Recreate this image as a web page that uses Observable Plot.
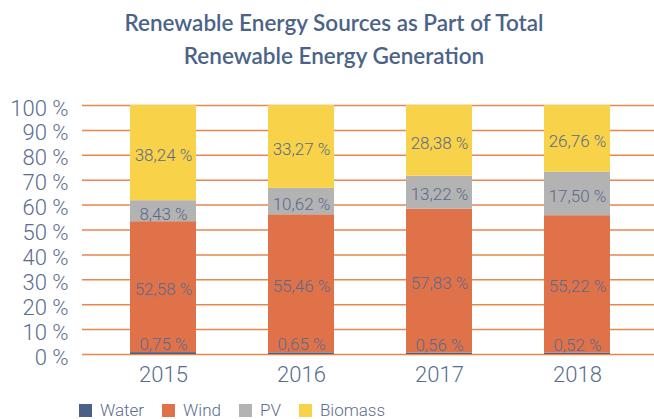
<!DOCTYPE html>
<html>
<head>
<meta charset="utf-8">
<script src="https://cdn.jsdelivr.net/npm/d3@7"></script>
<script src="https://cdn.jsdelivr.net/npm/@observablehq/plot@0.6"></script>
<style>
  html, body { margin: 0; padding: 0; background: #fff; }
  #wrap { position: relative; width: 654px; height: 419px; overflow: hidden; }
  #title { box-sizing: border-box; height: 85px; padding-top: 7px; padding-left: 14px; text-align: center;
    font-family: Lato, "Open Sans", sans-serif; font-weight: 600; font-size: 22.5px; line-height: 32.5px; color: #4b6389; }
  #legend { position: absolute; top: 400px; left: 79px; display: flex; align-items: center;
    font-family: Roboto, sans-serif; font-weight: 300; font-size: 17px; color: #5a6d90; }
  #legend .item { display: flex; align-items: center; margin-right: 18px; }
  #legend .sw { width: 13px; height: 13px; margin-right: 8px; }
</style>
</head>
<body>
<div id="wrap">
  <div id="title">Renewable Energy Sources as Part of Total<br>Renewable Energy Generation</div>
  <div id="chart"></div>
  <div id="legend"></div>
</div>
<script>
const years = ["2015", "2016", "2017", "2018"];
const series = ["Water", "Wind", "PV", "Biomass"];
const colors = ["#4a6088", "#e07249", "#b3b3b3", "#f8d248"];
const water = [0.75, 0.65, 0.56, 0.52];
const wind = [52.58, 55.46, 57.83, 55.22];
const pv = [8.43, 10.62, 13.22, 17.50];
const biomass = [38.24, 33.27, 28.38, 26.76];
const yTicks = [0, 10, 20, 30, 40, 50, 60, 70, 80, 90, 100];

const valuesBySeries = [water, wind, pv, biomass];
const data = [];
series.forEach((s, si) => years.forEach((y, yi) => data.push({year: y, series: s, value: valuesBySeries[si][yi]})));

const fmt = v => v.toFixed(2).replace(".", ",") + " %";
const labelColor = "#5a6a8c";

const plot = Plot.plot({
  width: 654,
  height: 310,
  marginTop: 20,
  marginBottom: 41,
  marginLeft: 82,
  marginRight: 0,
  style: {fontFamily: "Roboto, sans-serif", background: "transparent"},
  x: {domain: years, range: [93, 647.5], paddingInner: 0.524, paddingOuter: 0.262, label: null},
  y: {domain: [0, 100], label: null},
  color: {domain: series, range: colors},
  marks: [
    Plot.ruleY(yTicks, {stroke: "#e8864e", strokeWidth: 1.5}),
    Plot.barY(data, Plot.stackY({x: "year", y: "value", z: "series", fill: "series", order: series})),
    Plot.text(data.filter(d => d.series !== "Water"), Plot.stackY({
      x: "year", y: "value", z: "series", order: series.slice(1),
      text: d => fmt(d.value), fill: labelColor, fontSize: 17, fontWeight: 300, dy: 1
    })),
    Plot.text(data.filter(d => d.series === "Water"), {
      x: "year", y: "value", text: d => fmt(d.value), fill: labelColor,
      fontSize: 17, fontWeight: 300, dy: -8
    }),
    Plot.axisY(yTicks, {tickFormat: d => d + " %", tickSize: 0, tickPadding: 14, fontSize: 22, fontWeight: 300,
      fill: "#5a6d90", dy: 3, label: null}),
    Plot.axisX({tickSize: 0, tickPadding: 12, fontSize: 22, fontWeight: 300, fill: "#5a6d90", label: null})
  ]
});
document.getElementById("chart").appendChild(plot);

const legend = document.getElementById("legend");
series.forEach((s, i) => {
  const item = document.createElement("div");
  item.className = "item";
  const sw = document.createElement("div");
  sw.className = "sw";
  sw.style.background = colors[i];
  const t = document.createElement("span");
  t.textContent = s;
  item.appendChild(sw);
  item.appendChild(t);
  legend.appendChild(item);
});
</script>
</body>
</html>
